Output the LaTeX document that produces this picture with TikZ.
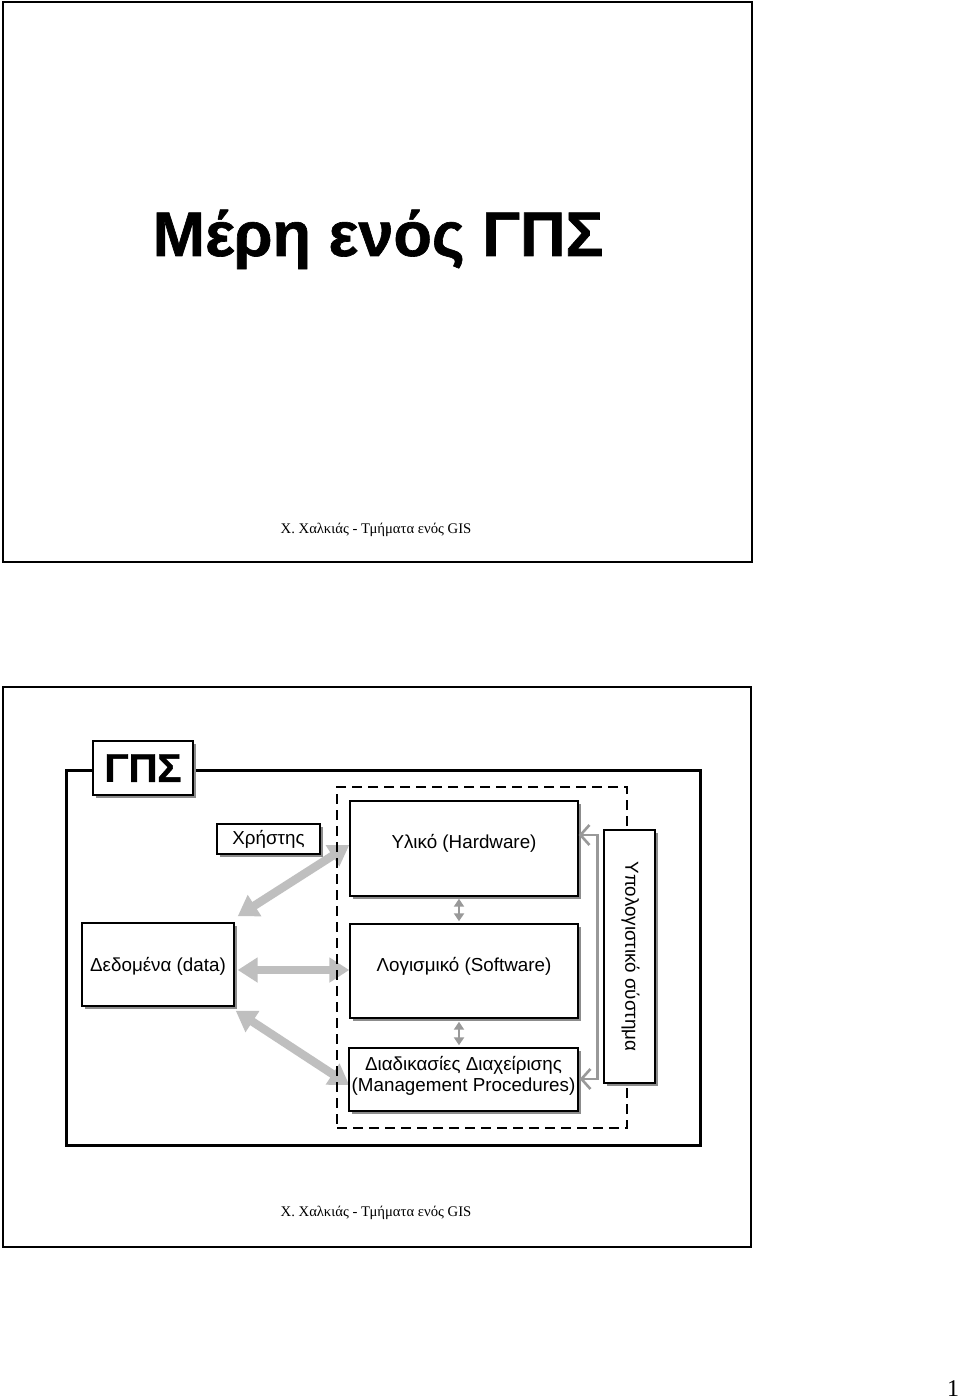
\documentclass[tikz,border=0pt]{standalone}
\usepackage{fontspec}
\setmainfont{Liberation Sans}
\newfontfamily\serifft{Liberation Serif}
\newfontfamily\heavyft[FakeBold=1.2]{Liberation Sans Bold}
\newfontfamily\titleft[FakeBold=1.0]{Liberation Sans Bold}
\usetikzlibrary{arrows.meta,shadows}
\begin{document}
\begin{tikzpicture}[x=0.5pt,y=-0.5pt,
  shad/.style={drop shadow={shadow xshift=1.5pt,shadow yshift=-1.5pt,fill=black!45,opacity=1}},
  box/.style={draw=black,line width=0.7pt,fill=white,shad,inner sep=0pt,align=center,font=\fontsize{9.4pt}{10.5pt}\selectfont},
  lbl/.style={inner sep=0pt,align=center,font=\fontsize{9.4pt}{10.5pt}\selectfont},
  page/.style={draw=black,line width=1.1pt,inner sep=0pt},
  foot/.style={anchor=base,inner sep=0pt,font=\serifft\fontsize{7.35pt}{9pt}\selectfont},
  bigarrow/.style={draw=black!25,line width=4.2pt,{Triangle[length=10pt,width=12pt]}-{Triangle[length=10pt,width=12pt]}},
  smallarrow/.style={draw=black!40,line width=1pt,{Triangle[length=4pt,width=5pt]}-{Triangle[length=4pt,width=5pt]}},
  bracket/.style={draw=black!40,line width=1.3pt,{Straight Barb[length=4.5pt,width=10pt]}-{Straight Barb[length=4.5pt,width=10pt]}}
]
\useasboundingbox (0,0) rectangle (960,1400);
\fill[white] (0,0) rectangle (960,1400);

% page 1
\node[page,minimum width=374.5pt,minimum height=280pt] (page1) at (377.5,282) {};
\node[anchor=base,inner sep=0pt,font=\titleft\fontsize{31.5pt}{36pt}\selectfont] (title) at (378,256) {Μέρη ενός ΓΠΣ};
\node[foot] (foot1) at (376,533) {Χ. Χαλκιάς - Τμήματα ενός GIS};

% page 2
\node[page,minimum width=374pt,minimum height=280pt] (page2) at (377,967) {};
\node[foot] (foot2) at (376,1216) {Χ. Χαλκιάς - Τμήματα ενός GIS};
\node[anchor=base,inner sep=0pt,font=\serifft\fontsize{12pt}{14pt}\selectfont] (pnum) at (953,1396) {1};

% GIS frame
\node[draw=black,line width=1.5pt,minimum width=317pt,minimum height=187.5pt,inner sep=0pt] (frame) at (383,957.5) {};

% boxes (first pass, so arrows can be anchored)
\node[box,minimum width=76pt,minimum height=41.5pt] (dat) at (158,964.5) {};
\node[box,minimum width=114pt,minimum height=47.5pt] (hw) at (464,848.5) {};
\node[box,minimum width=114pt,minimum height=47pt] (sw) at (464,971) {};
\node[box,minimum width=114.5pt,minimum height=31.5pt] (proc) at (463.5,1079.5) {};

\coordinate (a1s) at ([xshift=1.5pt,yshift=3pt]dat.north east);
\coordinate (a1e) at ([yshift=1.75pt]hw.west);
\coordinate (a2s) at ([xshift=1.5pt,yshift=-2.75pt]dat.east);
\coordinate (a2e) at ([yshift=-2.75pt]sw.west |- dat.east);
\coordinate (a3s) at ([xshift=0.5pt,yshift=-2pt]dat.south east);
\coordinate (a3e) at ([xshift=0.5pt,yshift=-2.75pt]proc.west);
\draw[bigarrow] (a1s) -- (a1e);
\draw[bigarrow] (a2s) -- (a2e);
\draw[bigarrow] (a3s) -- (a3e);

% dashed computer-system frame
\node[draw=black,line width=1pt,dash pattern=on 5pt off 3pt,minimum width=145pt,minimum height=170.5pt,inner sep=0pt] (dashed) at (482,957.5) {};

% boxes drawn again on top
\node[box,minimum width=76pt,minimum height=41.5pt] (dat2) at (158,964.5) {};
\node[lbl] (datl) at ([yshift=-1pt]dat2.center) {Δεδομένα (data)};
\node[box,minimum width=114pt,minimum height=47.5pt] (hw2) at (464,848.5) {};
\node[lbl] (hwl) at ([yshift=2.5pt]hw2.center) {Υλικό (Hardware)};
\node[box,minimum width=114pt,minimum height=47pt] (sw2) at (464,971) {};
\node[lbl] (swl) at ([yshift=2.5pt]sw2.center) {Λογισμικό (Software)};
\node[box,minimum width=114.5pt,minimum height=31.5pt] (proc2) at (463.5,1079.5) {};
\node[lbl] (procl) at ([yshift=2pt]proc2.center) {Διαδικασίες Διαχείρισης\\(Management Procedures)};

\node[box,minimum width=51.5pt,minimum height=15pt] (user) at (268.5,839) {Χρήστης};

\node[box,minimum width=25.5pt,minimum height=126.5pt] (comp) at (629.5,956.5) {};
\node[lbl,rotate=-90] (compl) at ([xshift=0.5pt]comp.center) {Υπολογιστικό σύστημα};

% GPS label box on frame
\node[box,minimum width=50pt,minimum height=27pt,font=\heavyft\fontsize{20pt}{24pt}\selectfont] (gps) at (143,768) {ΓΠΣ};

% small double arrows
\coordinate (s1a) at ([xshift=-2.5pt,yshift=-1pt]hw2.south);
\coordinate (s1b) at ([xshift=-2.5pt,yshift=1pt]sw2.north);
\coordinate (s2a) at ([xshift=-2.5pt,yshift=-1.5pt]sw2.south);
\coordinate (s2b) at ([xshift=-2.25pt,yshift=1pt]proc2.north);
\draw[smallarrow] (s1a) -- (s1b);
\draw[smallarrow] (s2a) -- (s2b);

% bracket line linking hardware and procedures
\coordinate (b1) at ([yshift=6.75pt]hw2.east);
\coordinate (b2) at ([xshift=0.5pt,yshift=0.25pt]proc2.east);
\draw[bracket] (b1) -- ++(19,0) |- (b2);
\end{tikzpicture}
\end{document}
